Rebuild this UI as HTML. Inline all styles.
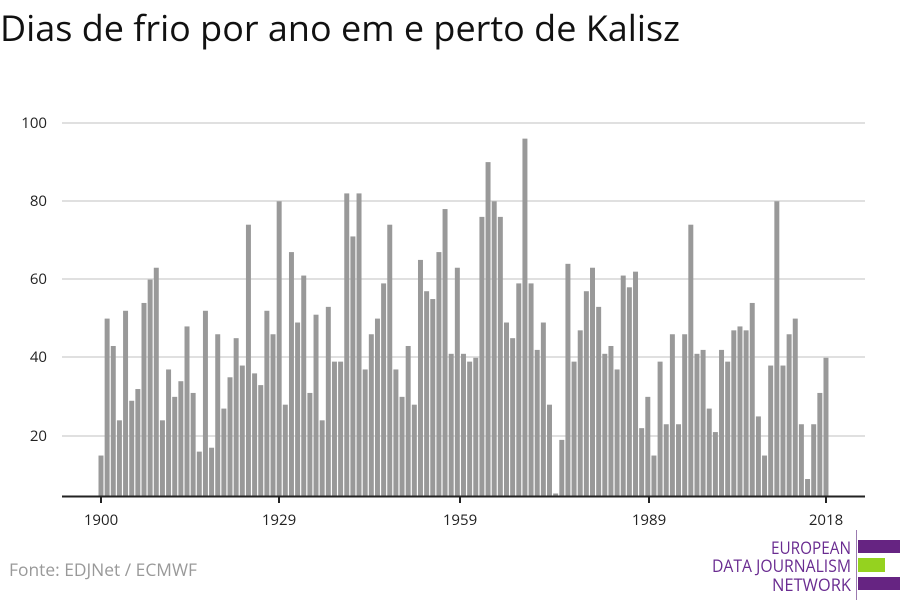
<!DOCTYPE html>
<html><head><meta charset="utf-8"><style>
body{margin:0;background:#fff;width:900px;height:600px;overflow:hidden}
svg{display:block}
</style></head><body>
<svg width="900" height="600" xmlns="http://www.w3.org/2000/svg" font-family="'Open Sans','Liberation Sans',sans-serif">
<text x="0" y="41" font-size="36" fill="#111" textLength="680" lengthAdjust="spacingAndGlyphs">Dias de frio por ano em e perto de Kalisz</text>
<g stroke="#e0e0e0" stroke-width="2">
<line x1="62" x2="865" y1="123" y2="123"/><line x1="62" x2="865" y1="201" y2="201"/><line x1="62" x2="865" y1="279" y2="279"/><line x1="62" x2="865" y1="357" y2="357"/><line x1="62" x2="865" y1="436" y2="436"/>
</g>
<g font-size="15" fill="#222" text-anchor="end">
<text x="47" y="128">100</text><text x="47" y="206">80</text><text x="47" y="284">60</text><text x="47" y="362">40</text><text x="47" y="441">20</text>
</g>
<g transform="translate(98.5,514.23) scale(6.144,-3.9125)" fill="#999">
<rect x="0" y="0" width=".81" height="15"/><rect x="1" y="0" width=".81" height="50"/><rect x="2" y="0" width=".81" height="43"/><rect x="3" y="0" width=".81" height="24"/><rect x="4" y="0" width=".81" height="52"/><rect x="5" y="0" width=".81" height="29"/><rect x="6" y="0" width=".81" height="32"/><rect x="7" y="0" width=".81" height="54"/><rect x="8" y="0" width=".81" height="60"/><rect x="9" y="0" width=".81" height="63"/>
<rect x="10" y="0" width=".81" height="24"/><rect x="11" y="0" width=".81" height="37"/><rect x="12" y="0" width=".81" height="30"/><rect x="13" y="0" width=".81" height="34"/><rect x="14" y="0" width=".81" height="48"/><rect x="15" y="0" width=".81" height="31"/><rect x="16" y="0" width=".81" height="16"/><rect x="17" y="0" width=".81" height="52"/><rect x="18" y="0" width=".81" height="17"/><rect x="19" y="0" width=".81" height="46"/>
<rect x="20" y="0" width=".81" height="27"/><rect x="21" y="0" width=".81" height="35"/><rect x="22" y="0" width=".81" height="45"/><rect x="23" y="0" width=".81" height="38"/><rect x="24" y="0" width=".81" height="74"/><rect x="25" y="0" width=".81" height="36"/><rect x="26" y="0" width=".81" height="33"/><rect x="27" y="0" width=".81" height="52"/><rect x="28" y="0" width=".81" height="46"/><rect x="29" y="0" width=".81" height="80"/>
<rect x="30" y="0" width=".81" height="28"/><rect x="31" y="0" width=".81" height="67"/><rect x="32" y="0" width=".81" height="49"/><rect x="33" y="0" width=".81" height="61"/><rect x="34" y="0" width=".81" height="31"/><rect x="35" y="0" width=".81" height="51"/><rect x="36" y="0" width=".81" height="24"/><rect x="37" y="0" width=".81" height="53"/><rect x="38" y="0" width=".81" height="39"/><rect x="39" y="0" width=".81" height="39"/>
<rect x="40" y="0" width=".81" height="82"/><rect x="41" y="0" width=".81" height="71"/><rect x="42" y="0" width=".81" height="82"/><rect x="43" y="0" width=".81" height="37"/><rect x="44" y="0" width=".81" height="46"/><rect x="45" y="0" width=".81" height="50"/><rect x="46" y="0" width=".81" height="59"/><rect x="47" y="0" width=".81" height="74"/><rect x="48" y="0" width=".81" height="37"/><rect x="49" y="0" width=".81" height="30"/>
<rect x="50" y="0" width=".81" height="43"/><rect x="51" y="0" width=".81" height="28"/><rect x="52" y="0" width=".81" height="65"/><rect x="53" y="0" width=".81" height="57"/><rect x="54" y="0" width=".81" height="55"/><rect x="55" y="0" width=".81" height="67"/><rect x="56" y="0" width=".81" height="78"/><rect x="57" y="0" width=".81" height="41"/><rect x="58" y="0" width=".81" height="63"/><rect x="59" y="0" width=".81" height="41"/>
<rect x="60" y="0" width=".81" height="39"/><rect x="61" y="0" width=".81" height="40"/><rect x="62" y="0" width=".81" height="76"/><rect x="63" y="0" width=".81" height="90"/><rect x="64" y="0" width=".81" height="80"/><rect x="65" y="0" width=".81" height="76"/><rect x="66" y="0" width=".81" height="49"/><rect x="67" y="0" width=".81" height="45"/><rect x="68" y="0" width=".81" height="59"/><rect x="69" y="0" width=".81" height="96"/>
<rect x="70" y="0" width=".81" height="59"/><rect x="71" y="0" width=".81" height="42"/><rect x="72" y="0" width=".81" height="49"/><rect x="73" y="0" width=".81" height="28"/><rect x="74" y="0" width=".81" height="5.3"/><rect x="75" y="0" width=".81" height="19"/><rect x="76" y="0" width=".81" height="64"/><rect x="77" y="0" width=".81" height="39"/><rect x="78" y="0" width=".81" height="47"/><rect x="79" y="0" width=".81" height="57"/>
<rect x="80" y="0" width=".81" height="63"/><rect x="81" y="0" width=".81" height="53"/><rect x="82" y="0" width=".81" height="41"/><rect x="83" y="0" width=".81" height="43"/><rect x="84" y="0" width=".81" height="37"/><rect x="85" y="0" width=".81" height="61"/><rect x="86" y="0" width=".81" height="58"/><rect x="87" y="0" width=".81" height="62"/><rect x="88" y="0" width=".81" height="22"/><rect x="89" y="0" width=".81" height="30"/>
<rect x="90" y="0" width=".81" height="15"/><rect x="91" y="0" width=".81" height="39"/><rect x="92" y="0" width=".81" height="23"/><rect x="93" y="0" width=".81" height="46"/><rect x="94" y="0" width=".81" height="23"/><rect x="95" y="0" width=".81" height="46"/><rect x="96" y="0" width=".81" height="74"/><rect x="97" y="0" width=".81" height="41"/><rect x="98" y="0" width=".81" height="42"/><rect x="99" y="0" width=".81" height="27"/>
<rect x="100" y="0" width=".81" height="21"/><rect x="101" y="0" width=".81" height="42"/><rect x="102" y="0" width=".81" height="39"/><rect x="103" y="0" width=".81" height="47"/><rect x="104" y="0" width=".81" height="48"/><rect x="105" y="0" width=".81" height="47"/><rect x="106" y="0" width=".81" height="54"/><rect x="107" y="0" width=".81" height="25"/><rect x="108" y="0" width=".81" height="15"/><rect x="109" y="0" width=".81" height="38"/>
<rect x="110" y="0" width=".81" height="80"/><rect x="111" y="0" width=".81" height="38"/><rect x="112" y="0" width=".81" height="46"/><rect x="113" y="0" width=".81" height="50"/><rect x="114" y="0" width=".81" height="23"/><rect x="115" y="0" width=".81" height="9"/><rect x="116" y="0" width=".81" height="23"/><rect x="117" y="0" width=".81" height="31"/><rect x="118" y="0" width=".81" height="40"/>
</g>
<rect x="0" y="496" width="900" height="20" fill="#fff"/>
<line x1="62" x2="865" y1="496.5" y2="496.5" stroke="#222" stroke-width="2"/>
<g stroke="#222" stroke-width="2">
<line x1="101" x2="101" y1="496" y2="503"/><line x1="279" x2="279" y1="496" y2="503"/><line x1="460" x2="460" y1="496" y2="503"/><line x1="649" x2="649" y1="496" y2="503"/><line x1="826" x2="826" y1="496" y2="503"/>
</g>
<g font-size="15" fill="#222" text-anchor="middle">
<text x="101" y="525">1900</text><text x="279" y="525">1929</text><text x="460" y="525">1959</text><text x="649" y="525">1989</text><text x="826" y="525">2018</text>
</g>
<text x="9" y="576" font-size="17" fill="#999" textLength="188" lengthAdjust="spacingAndGlyphs">Fonte: EDJNet / ECMWF</text>
<g fill="#6a2c91" font-size="17.5" text-anchor="end">
<text x="851" y="554" textLength="80" lengthAdjust="spacingAndGlyphs">EUROPEAN</text>
<text x="851" y="572" textLength="139" lengthAdjust="spacingAndGlyphs">DATA JOURNALISM</text>
<text x="851" y="591" textLength="79" lengthAdjust="spacingAndGlyphs">NETWORK</text>
</g>
<line x1="856.5" x2="856.5" y1="530" y2="600" stroke="#9b7bb0" stroke-width="1"/>
<rect x="858" y="540" width="42" height="13" fill="#662482"/>
<rect x="858" y="558" width="27" height="14" fill="#95d21f"/>
<rect x="858" y="577" width="42" height="13" fill="#662482"/>
</svg>
</body></html>
